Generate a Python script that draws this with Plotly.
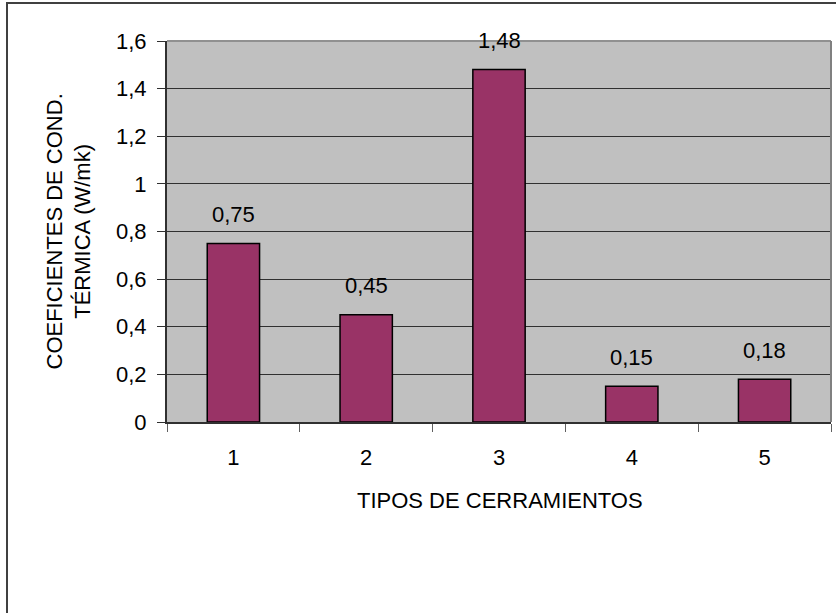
import plotly.graph_objects as go

# Thermal conductivity coefficient per enclosure type
tipos = ["1", "2", "3", "4", "5"]
coeficientes = [0.75, 0.45, 1.48, 0.15, 0.18]
y_ticks = [0, 0.2, 0.4, 0.6, 0.8, 1.0, 1.2, 1.4, 1.6]

FONT = "Liberation Sans, Arial, sans-serif"
W, H = 836, 613
L, R, T, B = 167, 5, 41, 191
plot_w = W - L - R
plot_h = H - T - B

fig = go.Figure()
fig.add_trace(go.Bar(
    x=tipos,
    y=coeficientes,
    marker=dict(color="#993366", line=dict(color="#000000", width=1.5)),
    hoverinfo="x+y",
))

# value labels above each bar (category axis: x given as category index)
annotations = []
for i, v in enumerate(coeficientes):
    annotations.append(dict(
        x=i, y=v, xref="x", yref="y",
        text=f"{v:.2f}".replace(".", ","),
        showarrow=False, yanchor="middle", yshift=29,
        font=dict(family=FONT, size=22, color="#000000"),
    ))

# axis titles
annotations.append(dict(
    x=(68 - L) / plot_w, y=0.5, xref="paper", yref="paper",
    text="COEFICIENTES DE COND.<br>TÉRMICA (W/mk)",
    textangle=-90, showarrow=False, xanchor="center", yanchor="middle",
    font=dict(family=FONT, size=22, color="#000000"),
))
annotations.append(dict(
    x=(500 - L) / plot_w, y=-(500 - (T + plot_h)) / plot_h,
    xref="paper", yref="paper",
    text="TIPOS DE CERRAMIENTOS",
    showarrow=False, xanchor="center", yanchor="middle",
    font=dict(family=FONT, size=22, color="#000000"),
))

shapes = [
    # gray plot frame on top and right
    dict(type="line", xref="paper", yref="paper", x0=0, x1=1, y0=1, y1=1,
         line=dict(color="#909090", width=2)),
    dict(type="line", xref="paper", yref="paper", x0=1, x1=1, y0=0, y1=1,
         line=dict(color="#808080", width=2)),
    # outer chart-area border
    dict(type="rect", xref="paper", yref="paper",
         x0=(7 - L) / plot_w, x1=(W + 20 - L) / plot_w,
         y0=-(H + 20 - (T + plot_h)) / plot_h, y1=((T + plot_h) - 3) / plot_h,
         line=dict(color="#404040", width=2), fillcolor="rgba(0,0,0,0)"),
]

fig.update_layout(
    width=W, height=H,
    margin=dict(l=L, r=R, t=T, b=B),
    paper_bgcolor="#ffffff",
    plot_bgcolor="#c0c0c0",
    separators=",.",
    bargap=0.606,
    showlegend=False,
    font=dict(family=FONT, size=22, color="#000000"),
    annotations=annotations,
    shapes=shapes,
)
fig.update_xaxes(
    type="category",
    range=[-0.5, len(tipos) - 0.5],
    tickson="boundaries",
    ticks="outside", ticklen=8, tickcolor="#606060", tickwidth=1,
    ticklabelstandoff=15,
    showgrid=False,
    showline=True, linecolor="#303030", linewidth=2,
    tickfont=dict(family=FONT, size=22, color="#000000"),
    fixedrange=True,
)
fig.update_yaxes(
    range=[0, 1.6],
    tickvals=y_ticks,
    ticks="outside", ticklen=8, tickcolor="#303030", tickwidth=1,
    ticklabelstandoff=6,
    showgrid=True, gridcolor="#303030", gridwidth=1,
    zeroline=False,
    showline=True, linecolor="#303030", linewidth=2,
    tickfont=dict(family=FONT, size=22, color="#000000"),
    fixedrange=True,
)

fig.write_html("out.html")
